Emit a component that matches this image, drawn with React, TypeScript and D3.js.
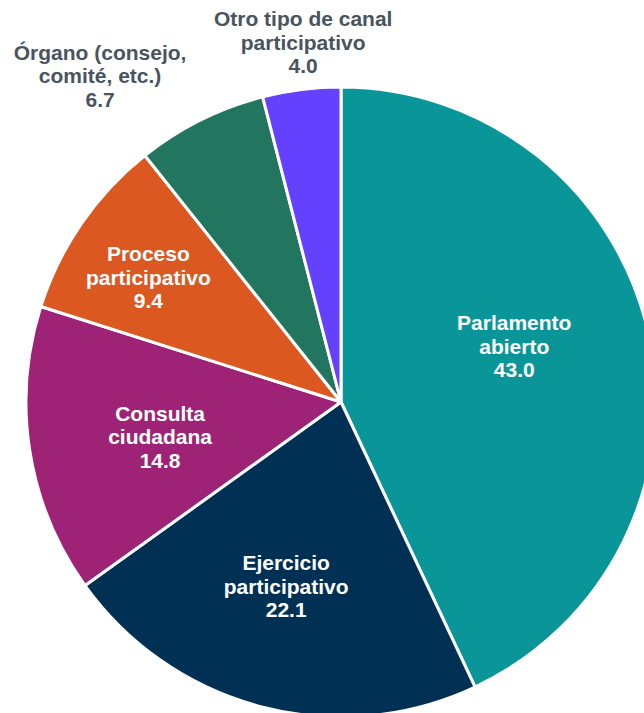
import React from "react";
import * as d3 from "d3";

const categories = [
  "Parlamento abierto",
  "Ejercicio participativo",
  "Consulta ciudadana",
  "Proceso participativo",
  "Órgano (consejo, comité, etc.)",
  "Otro tipo de canal participativo",
];
const values = [43.0, 22.1, 14.8, 9.4, 6.7, 4.0];
const labelLines = [
  ["Parlamento", "abierto"],
  ["Ejercicio", "participativo"],
  ["Consulta", "ciudadana"],
  ["Proceso", "participativo"],
  ["Órgano (consejo,", "comité, etc.)"],
  ["Otro tipo de canal", "participativo"],
];
const colors = ["#0a9699", "#003054", "#9e2376", "#dc5821", "#227660", "#6441ff"];
const inside = [true, true, true, true, false, false];
// label placement: [radius factor, angle shift in degrees]
const labelPlacement: [number, number][] = [
  [0.578, -5.3],
  [0.61, 2.0],
  [0.585, -1.9],
  [0.729, -1.6],
  [1.287, -10],
  [1.149, 1.2],
];

const W = 644;
const H = 713;
const cx = 341;
const cy = 402;
const R = 315;

export default function App() {
  const pie = d3
    .pie<number>()
    .sort(null)
    .value((d) => d);
  const arcs = pie(values);
  const arc = d3.arc<d3.PieArcDatum<number>>().innerRadius(0).outerRadius(R);
  const lh = 23.5;
  return (
    <div style={{ position: "fixed", left: 0, top: 0, width: W, height: H, background: "#fff" }}>
      <svg width={W} height={H} style={{ display: "block" }}>
        <g transform={`translate(${cx},${cy})`}>
          {arcs.map((a, i) => (
            <path
              key={categories[i]}
              d={arc(a) || ""}
              fill={colors[i]}
              stroke="#fff"
              strokeWidth={3}
              strokeLinejoin="round"
            />
          ))}
          {arcs.map((a, i) => {
            const [rf, shift] = labelPlacement[i];
            const ang = (a.startAngle + a.endAngle) / 2 + (shift * Math.PI) / 180;
            const x = Math.sin(ang) * R * rf;
            const y = -Math.cos(ang) * R * rf;
            const lines = [...labelLines[i], values[i].toFixed(1)];
            return (
              <text
                key={"l" + i}
                textAnchor="middle"
                fontFamily="'Liberation Sans', Arial, sans-serif"
                fontWeight="bold"
                fontSize={21}
                fill={inside[i] ? "#ffffff" : "#4a545e"}
              >
                {lines.map((t, j) => (
                  <tspan key={j} x={x} y={y + (j - 1) * lh + 7.5}>
                    {t}
                  </tspan>
                ))}
              </text>
            );
          })}
        </g>
      </svg>
    </div>
  );
}
